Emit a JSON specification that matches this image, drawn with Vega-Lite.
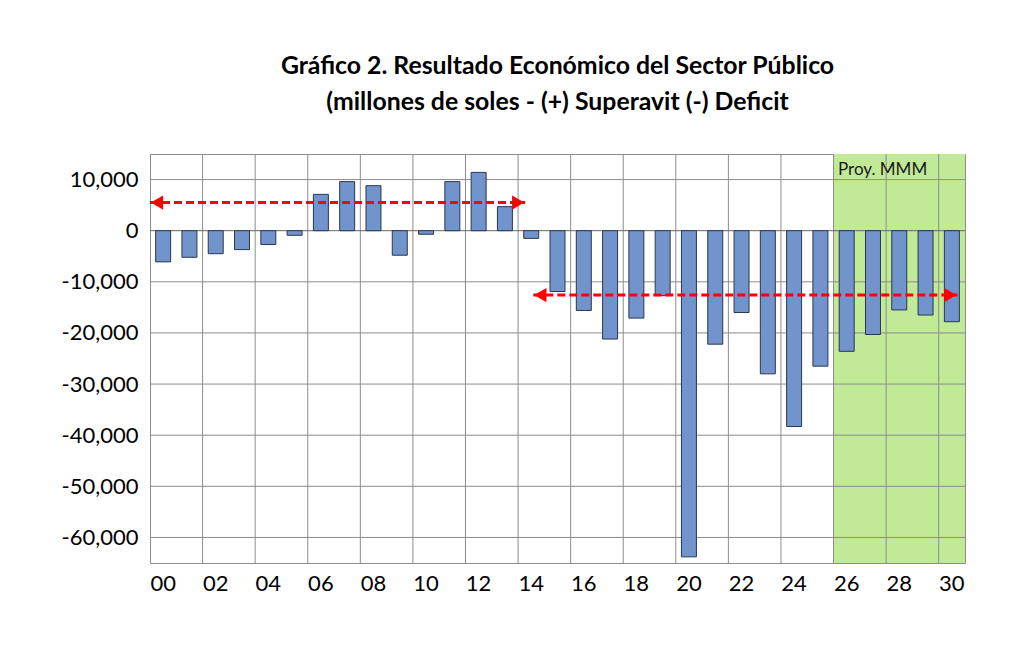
{
  "$schema": "https://vega.github.io/schema/vega-lite/v6.json",
  "width": 815,
  "height": 409,
  "autosize": "none",
  "padding": {"left": 150, "top": 154, "right": 59, "bottom": 86},
  "background": "white",
  "title": {
    "text": ["Gráfico 2. Resultado Económico del Sector Público", "(millones de soles - (+) Superavit (-) Deficit"],
    "font": "Lato",
    "fontSize": 24.8,
    "fontWeight": "bold",
    "color": "black",
    "anchor": "middle",
    "lineHeight": 36,
    "offset": 39
  },
  "datasets": {
    "resultado": [
      {"anio": "00", "valor": -6100},
      {"anio": "01", "valor": -5200},
      {"anio": "02", "valor": -4500},
      {"anio": "03", "valor": -3700},
      {"anio": "04", "valor": -2700},
      {"anio": "05", "valor": -900},
      {"anio": "06", "valor": 7100},
      {"anio": "07", "valor": 9600},
      {"anio": "08", "valor": 8800},
      {"anio": "09", "valor": -4800},
      {"anio": "10", "valor": -700},
      {"anio": "11", "valor": 9600},
      {"anio": "12", "valor": 11400},
      {"anio": "13", "valor": 4700},
      {"anio": "14", "valor": -1500},
      {"anio": "15", "valor": -11900},
      {"anio": "16", "valor": -15600},
      {"anio": "17", "valor": -21200},
      {"anio": "18", "valor": -17100},
      {"anio": "19", "valor": -12700},
      {"anio": "20", "valor": -63800},
      {"anio": "21", "valor": -22200},
      {"anio": "22", "valor": -16000},
      {"anio": "23", "valor": -28000},
      {"anio": "24", "valor": -38300},
      {"anio": "25", "valor": -26500},
      {"anio": "26", "valor": -23600},
      {"anio": "27", "valor": -20300},
      {"anio": "28", "valor": -15500},
      {"anio": "29", "valor": -16500},
      {"anio": "30", "valor": -17800}
    ],
    "gridX": [
      {"anio": "02"}, {"anio": "04"}, {"anio": "06"}, {"anio": "08"}, {"anio": "10"},
      {"anio": "12"}, {"anio": "14"}, {"anio": "16"}, {"anio": "18"}, {"anio": "20"},
      {"anio": "22"}, {"anio": "24"}, {"anio": "26"}, {"anio": "28"}, {"anio": "30"}
    ],
    "gridY": [
      {"v": 10000}, {"v": 0}, {"v": -10000}, {"v": -20000}, {"v": -30000},
      {"v": -40000}, {"v": -50000}, {"v": -60000}
    ]
  },
  "layer": [
    {
      "data": {"values": [{"desde": "26", "hasta": "30"}]},
      "mark": {"type": "rect", "color": "#C1EA97"},
      "encoding": {
        "x": {
          "field": "desde",
          "type": "ordinal",
          "bandPosition": 0,
          "scale": {
            "domain": ["00", "01", "02", "03", "04", "05", "06", "07", "08", "09", "10", "11", "12", "13", "14", "15", "16", "17", "18", "19", "20", "21", "22", "23", "24", "25", "26", "27", "28", "29", "30"],
            "paddingInner": 0,
            "paddingOuter": 0
          },
          "axis": {
            "title": null,
            "values": ["00", "02", "04", "06", "08", "10", "12", "14", "16", "18", "20", "22", "24", "26", "28", "30"],
            "labelAngle": 0,
            "labelFont": "Lato",
            "labelFontSize": 22,
            "labelColor": "black",
            "labelPadding": 10,
            "ticks": false,
            "domain": false,
            "grid": false
          }
        },
        "x2": {"field": "hasta", "bandPosition": 1}
      }
    },
    {
      "data": {"name": "gridX"},
      "mark": {"type": "rule", "color": "#8c8c8c", "strokeWidth": 1},
      "encoding": {
        "x": {"field": "anio", "type": "ordinal", "bandPosition": 0}
      }
    },
    {
      "data": {"name": "gridY"},
      "mark": {"type": "rule", "strokeWidth": 1},
      "encoding": {
        "y": {
          "field": "v",
          "type": "quantitative",
          "scale": {"domain": [-65000, 15000], "nice": false},
          "axis": {
            "title": null,
            "values": [10000, 0, -10000, -20000, -30000, -40000, -50000, -60000],
            "labelExpr": "replace(format(datum.value, ','), '\u2212', '-')",
            "labelFont": "Lato",
            "labelFontSize": 22,
            "labelColor": "black",
            "labelPadding": 12,
            "ticks": false,
            "domain": false,
            "grid": false
          }
        },
        "color": {
          "condition": {"test": "datum.v === 0", "value": "#666666"},
          "value": "#8c8c8c"
        }
      }
    },
    {
      "data": {"name": "resultado"},
      "mark": {"type": "bar", "color": "#7294CC", "stroke": "#2B3650", "strokeWidth": 1, "width": {"band": 0.57}},
      "encoding": {
        "x": {"field": "anio", "type": "ordinal"},
        "y": {"field": "valor", "type": "quantitative"},
        "y2": {"datum": 0}
      }
    },
    {
      "data": {"values": [{"desde": "00", "hasta": "14", "y": 5500}]},
      "layer": [
        {
          "mark": {"type": "rule", "color": "#FF0000", "strokeWidth": 3, "strokeDash": [8, 4]},
          "encoding": {
            "x": {"field": "desde", "type": "ordinal", "bandPosition": 0},
            "x2": {"field": "hasta", "bandPosition": 0.27},
            "y": {"field": "y", "type": "quantitative"}
          }
        },
        {
          "mark": {"type": "point", "shape": "triangle-left", "filled": true, "color": "#FF0000", "opacity": 1, "size": 200, "xOffset": 7},
          "encoding": {
            "x": {"field": "desde", "type": "ordinal", "bandPosition": 0},
            "y": {"field": "y", "type": "quantitative"}
          }
        },
        {
          "mark": {"type": "point", "shape": "triangle-right", "filled": true, "color": "#FF0000", "opacity": 1, "size": 200, "xOffset": -7},
          "encoding": {
            "x": {"field": "hasta", "type": "ordinal", "bandPosition": 0.27},
            "y": {"field": "y", "type": "quantitative"}
          }
        }
      ]
    },
    {
      "data": {"values": [{"desde": "14", "hasta": "30", "y": -12600}]},
      "layer": [
        {
          "mark": {"type": "rule", "color": "#FF0000", "strokeWidth": 3, "strokeDash": [8, 4]},
          "encoding": {
            "x": {"field": "desde", "type": "ordinal", "bandPosition": 0.58},
            "x2": {"field": "hasta", "bandPosition": 0.71},
            "y": {"field": "y", "type": "quantitative"}
          }
        },
        {
          "mark": {"type": "point", "shape": "triangle-left", "filled": true, "color": "#FF0000", "opacity": 1, "size": 200, "xOffset": 7},
          "encoding": {
            "x": {"field": "desde", "type": "ordinal", "bandPosition": 0.58},
            "y": {"field": "y", "type": "quantitative"}
          }
        },
        {
          "mark": {"type": "point", "shape": "triangle-right", "filled": true, "color": "#FF0000", "opacity": 1, "size": 200, "xOffset": -7},
          "encoding": {
            "x": {"field": "hasta", "type": "ordinal", "bandPosition": 0.71},
            "y": {"field": "y", "type": "quantitative"}
          }
        }
      ]
    },
    {
      "data": {"values": [{"anio": "26", "y": 11800, "nota": "Proy. MMM"}]},
      "mark": {"type": "text", "align": "left", "baseline": "middle", "dx": 4.5, "font": "Lato", "fontSize": 17, "color": "#1a1a1a"},
      "encoding": {
        "x": {"field": "anio", "type": "ordinal", "bandPosition": 0},
        "y": {"field": "y", "type": "quantitative"},
        "text": {"field": "nota"}
      }
    }
  ],
  "config": {
    "view": {"stroke": "#8c8c8c", "strokeWidth": 1}
  }
}
